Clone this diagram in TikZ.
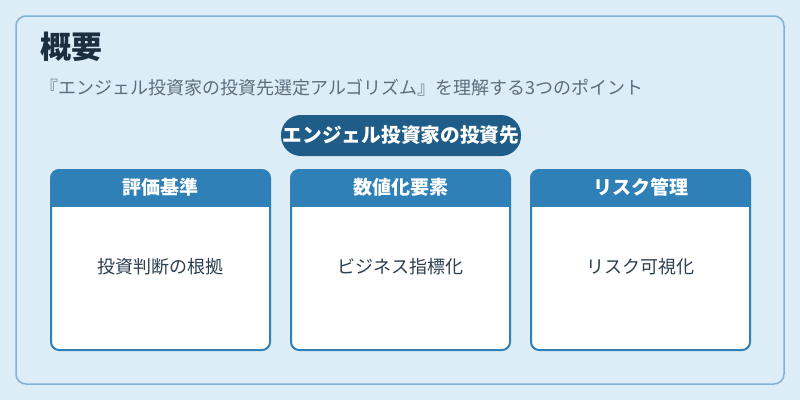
\documentclass[tikz,border=0pt]{standalone}
\usepackage{fontspec}
\setmainfont{Noto Sans CJK JP}
\usepackage{tikz}
\usetikzlibrary{positioning}

\definecolor{fondo}{HTML}{DDEDF8}
\definecolor{borde}{HTML}{7FB3D5}
\definecolor{azul}{HTML}{2E80B6}
\definecolor{azuloscuro}{HTML}{1F5C87}
\definecolor{tinta}{HTML}{1C2F40}
\definecolor{gris}{HTML}{5D6D7E}
\definecolor{texto}{HTML}{2C3E50}

\tikzset{
	tarjeta/.style={draw=azul, line width=2pt, fill=white, rounded corners=8pt,
		minimum width=219pt, minimum height=180pt, inner sep=0pt,
		path picture={\fill[azul, sharp corners] (path picture bounding box.north west) rectangle ([yshift=-37pt]path picture bounding box.north east);}},
	cabecera/.style={text=white, inner sep=0pt, font=\fontsize{19pt}{23pt}\selectfont\bfseries},
	cuerpo/.style={text=texto, inner sep=0pt, font=\fontsize{18pt}{22pt}\selectfont},
	pastilla/.style={fill=azuloscuro, rounded corners=20pt, minimum width=240pt, minimum height=41pt,
		inner sep=0pt, text=white, font=\fontsize{19.7pt}{23pt}\selectfont\bfseries}
}

\begin{document}
\begin{tikzpicture}[x=1pt, y=-1pt]
			\useasboundingbox (0,0) rectangle (800,400);

			% Fondo y marco
			\fill[fondo] (0,0) rectangle (800,400);
			\draw[borde, line width=1.5pt, rounded corners=10pt] (16,16) rectangle (784,384);

			% Titulo y subtitulo
			\node[anchor=west, inner sep=0pt, text=tinta, font=\fontsize{31pt}{34pt}\selectfont\bfseries] (titulo) at (40,47) {概要};
			\node[anchor=west, inner sep=0pt, text=gris, font=\fontsize{18pt}{22pt}\selectfont] (subtitulo) at (40,88) {『エンジェル投資家の投資先選定アルゴリズム』を理解する3つのポイント};

			% Etiqueta central
			\node[pastilla] (inversor) at (401,135.5) {エンジェル投資家の投資先};

			% Tarjetas
			\node[tarjeta] (criterio) at (160.5,260) {};
			\node[tarjeta] (numeros) at (400.5,260) {};
			\node[tarjeta] (riesgo) at (640.5,260) {};

			% Textos de las tarjetas
			\node[cabecera] at ([yshift=-18.5pt]criterio.north) {評価基準};
			\node[cabecera] at ([yshift=-18.5pt]numeros.north) {数値化要素};
			\node[cabecera] at ([yshift=-18.5pt]riesgo.north) {リスク管理};
			\node[cuerpo] at ([yshift=-7pt]criterio.center) {投資判断の根拠};
			\node[cuerpo] at ([yshift=-7pt]numeros.center) {ビジネス指標化};
			\node[cuerpo] at ([yshift=-7pt]riesgo.center) {リスク可視化};
		\end{tikzpicture}
\end{document}
